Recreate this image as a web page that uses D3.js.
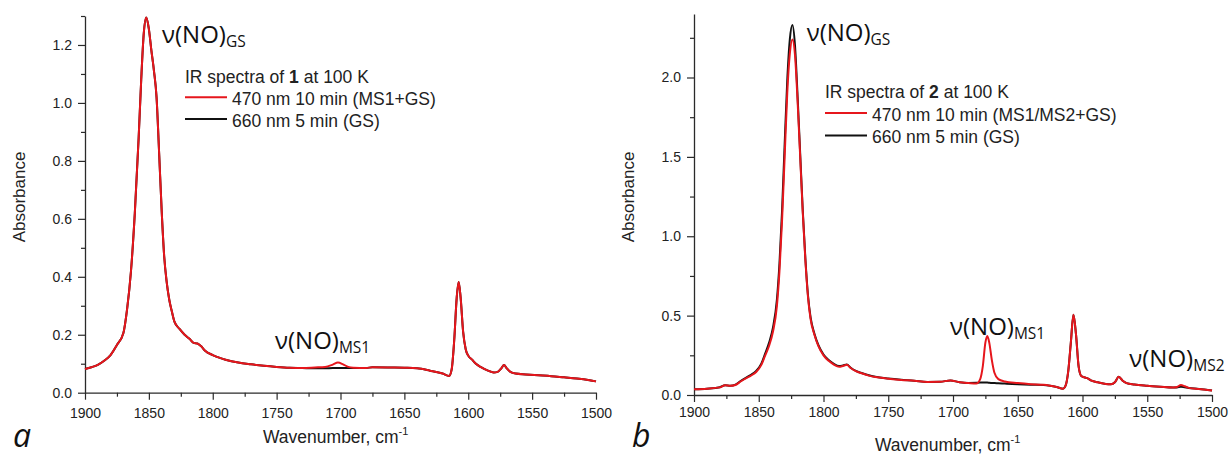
<!DOCTYPE html>
<html>
<head>
<meta charset="utf-8">
<script src="https://cdn.jsdelivr.net/npm/d3@7/dist/d3.min.js"></script>
<style>
  html, body { margin: 0; padding: 0; background: #fff; }
  svg { display: block; }
</style>
</head>
<body>
<svg id="chart" width="1232" height="456"></svg>
<script>
// ---------- Compound 1 (panel a) ----------
const wnA = [1900, 1895, 1890, 1885, 1880, 1875, 1870, 1867, 1864, 1861, 1858, 1856, 1854, 1852, 1850,
  1848, 1846, 1844, 1842, 1840, 1838, 1836, 1834, 1832, 1830, 1826, 1822, 1818, 1815, 1812, 1809,
  1806, 1800, 1795, 1790, 1780, 1770, 1760, 1750, 1740, 1730, 1720, 1712, 1706, 1702, 1698, 1694,
  1690, 1680, 1675, 1660, 1650, 1640, 1630, 1620, 1615, 1613, 1611, 1609, 1607.5, 1606, 1604, 1602,
  1600, 1597, 1594, 1590, 1585, 1580, 1577, 1574, 1572, 1570, 1567, 1563, 1555, 1545, 1535, 1525,
  1515, 1505, 1500];
// 470 nm, 10 min (MS1+GS)
const absA470 = [0.082, 0.088, 0.096, 0.110, 0.130, 0.165, 0.205, 0.290, 0.420, 0.620, 0.880, 1.080, 1.240, 1.295, 1.255,
  1.180, 1.110, 1.020, 0.830, 0.630, 0.470, 0.380, 0.320, 0.280, 0.245, 0.220, 0.200, 0.185, 0.172, 0.170, 0.160,
  0.145, 0.130, 0.121, 0.114, 0.104, 0.098, 0.093, 0.089, 0.086, 0.085, 0.087, 0.089, 0.097, 0.104, 0.098, 0.089,
  0.086, 0.085, 0.088, 0.087, 0.086, 0.084, 0.076, 0.066, 0.058, 0.080, 0.180, 0.330, 0.382, 0.330, 0.210, 0.150,
  0.128, 0.114, 0.100, 0.088, 0.077, 0.070, 0.072, 0.085, 0.096, 0.085, 0.072, 0.066, 0.063, 0.060, 0.057, 0.053,
  0.049, 0.043, 0.039];
// 660 nm, 5 min (GS)
const absA660 = [0.082, 0.088, 0.096, 0.110, 0.130, 0.165, 0.205, 0.290, 0.420, 0.620, 0.880, 1.080, 1.240, 1.295, 1.255,
  1.180, 1.110, 1.020, 0.830, 0.630, 0.470, 0.380, 0.320, 0.280, 0.245, 0.220, 0.200, 0.185, 0.172, 0.170, 0.160,
  0.145, 0.130, 0.121, 0.114, 0.104, 0.098, 0.093, 0.089, 0.086, 0.085, 0.084, 0.084, 0.085, 0.085, 0.085, 0.085,
  0.085, 0.085, 0.088, 0.087, 0.086, 0.084, 0.076, 0.066, 0.058, 0.080, 0.180, 0.330, 0.382, 0.330, 0.210, 0.150,
  0.128, 0.114, 0.100, 0.088, 0.077, 0.070, 0.072, 0.085, 0.096, 0.085, 0.072, 0.066, 0.063, 0.060, 0.057, 0.053,
  0.049, 0.043, 0.039];

// ---------- Compound 2 (panel b) ----------
const wnB = [1900, 1890, 1880, 1876, 1872, 1868, 1864, 1860, 1856, 1852, 1848, 1845, 1842, 1839, 1836,
  1834, 1832, 1830, 1828, 1826, 1824, 1822, 1820, 1818, 1816, 1814, 1812, 1810, 1807, 1804, 1800,
  1796, 1792, 1788, 1785, 1782, 1779, 1775, 1770, 1765, 1760, 1750, 1740, 1730, 1720, 1710, 1702,
  1695, 1688, 1682, 1679, 1677, 1675, 1673.5, 1672, 1670, 1668, 1665, 1660, 1650, 1640, 1630, 1625,
  1620, 1615, 1613, 1611, 1609, 1607, 1605, 1603, 1601, 1598, 1596, 1593, 1588, 1582, 1578, 1575,
  1572, 1569, 1566, 1560, 1550, 1540, 1530, 1527, 1524, 1521, 1518, 1510, 1500];
// 470 nm, 10 min (MS1/MS2+GS)
const absB470 = [0.036, 0.040, 0.048, 0.062, 0.058, 0.063, 0.085, 0.105, 0.122, 0.145, 0.190, 0.250, 0.310, 0.400, 0.560,
  0.780, 1.100, 1.500, 1.900, 2.150, 2.240, 2.140, 1.850, 1.500, 1.150, 0.850, 0.620, 0.480, 0.380, 0.310, 0.250,
  0.215, 0.192, 0.178, 0.183, 0.190, 0.170, 0.150, 0.135, 0.122, 0.113, 0.103, 0.095, 0.090, 0.082, 0.083, 0.092,
  0.080, 0.075, 0.072, 0.100, 0.180, 0.330, 0.372, 0.330, 0.220, 0.140, 0.100, 0.085, 0.075, 0.068, 0.064, 0.058,
  0.050, 0.040, 0.060, 0.150, 0.330, 0.505, 0.380, 0.180, 0.120, 0.110, 0.105, 0.090, 0.080, 0.070, 0.068, 0.080,
  0.115, 0.090, 0.075, 0.066, 0.058, 0.052, 0.047, 0.050, 0.063, 0.055, 0.045, 0.038, 0.028];
// 660 nm, 5 min (GS)
const absB660 = [0.036, 0.040, 0.049, 0.062, 0.058, 0.065, 0.088, 0.108, 0.127, 0.152, 0.198, 0.262, 0.330, 0.425, 0.600,
  0.830, 1.160, 1.580, 1.980, 2.240, 2.330, 2.200, 1.880, 1.520, 1.160, 0.860, 0.630, 0.490, 0.385, 0.315, 0.255,
  0.220, 0.196, 0.182, 0.186, 0.192, 0.172, 0.152, 0.137, 0.124, 0.115, 0.104, 0.096, 0.090, 0.082, 0.083, 0.092,
  0.080, 0.076, 0.077, 0.078, 0.078, 0.078, 0.078, 0.077, 0.076, 0.075, 0.074, 0.072, 0.068, 0.065, 0.063, 0.058,
  0.050, 0.040, 0.060, 0.150, 0.330, 0.505, 0.380, 0.180, 0.120, 0.110, 0.105, 0.090, 0.080, 0.070, 0.068, 0.080,
  0.115, 0.090, 0.075, 0.066, 0.058, 0.052, 0.047, 0.048, 0.052, 0.048, 0.044, 0.038, 0.028];

// ---------- Tick values ----------
const xTicks = [1900, 1850, 1800, 1750, 1700, 1650, 1600, 1550, 1500];
const xMinorTicks = [1875, 1825, 1775, 1725, 1675, 1625, 1575, 1525];
const yTicksA = [0.0, 0.2, 0.4, 0.6, 0.8, 1.0, 1.2];
const yMinorTicksA = [0.1, 0.3, 0.5, 0.7, 0.9, 1.1, 1.3];
const yTicksB = [0.0, 0.5, 1.0, 1.5, 2.0];
const yMinorTicksB = [0.25, 0.75, 1.25, 1.75, 2.25];

// ---------- Legend / label text ----------
const seriesNames = {
  a: ["470 nm 10 min (MS1+GS)", "660 nm 5 min (GS)"],
  b: ["470 nm 10 min (MS1/MS2+GS)", "660 nm 5 min (GS)"]
};

const RED = "#e6161c";
const BLACK = "#111";
const AXIS = "#2a2a2a";
const SANS = "'Liberation Sans', Arial, sans-serif";
const LABEL_FONT = "'Open Sans', sans-serif";

const svg = d3.select("#chart");
svg.append("rect").attr("width", 1232).attr("height", 456).attr("fill", "#fff");

const panels = [
  {
    id: "a", compound: "1",
    box: { left: 85, right: 596, top: 16, bottom: 392.7 },
    yMax: 1.3, yTicks: yTicksA, yMinor: yMinorTicksA, yFmt: d3.format(".1f"),
    wn: wnA, red: absA470, black: absA660,
    xLabelPad: 8, xTitle: { x: 263, y: 442.5 }, yTitle: { x: 25, y: 197 },
    letter: { x: 13, y: 447 },
    legend: { x: 185, y: 83, dy: 21.8 },
    notes: [
      { x: 162, y: 42.7, sub: "GS" },
      { x: 275, y: 348.5, sub: "MS1" }
    ]
  },
  {
    id: "b", compound: "2",
    box: { left: 694, right: 1212, top: 14, bottom: 395 },
    yMax: 2.4, yTicks: yTicksB, yMinor: yMinorTicksB, yFmt: d3.format(".1f"),
    wn: wnB, red: absB470, black: absB660,
    xLabelPad: 5, xTitle: { x: 875, y: 451 }, yTitle: { x: 634, y: 197 },
    letter: { x: 632, y: 447 },
    legend: { x: 825, y: 98, dy: 22.5 },
    notes: [
      { x: 806.7, y: 40.5, sub: "GS" },
      { x: 950, y: 335, sub: "MS1" },
      { x: 1129.3, y: 367, sub: "MS2" }
    ]
  }
];

panels.forEach(p => {
  const b = p.box;
  const x = d3.scaleLinear().domain([1900, 1500]).range([b.left, b.right]);
  const y = d3.scaleLinear().domain([0, p.yMax]).range([b.bottom, b.top]);
  const g = svg.append("g").attr("class", "panel-" + p.id);

  // minor ticks
  g.append("g").attr("transform", `translate(0,${b.bottom})`)
    .call(d3.axisBottom(x).tickValues(xMinorTicks).tickSize(4).tickFormat(""))
    .call(a => a.select(".domain").remove());
  g.append("g").attr("transform", `translate(${b.left},0)`)
    .call(d3.axisLeft(y).tickValues(p.yMinor).tickSize(4).tickFormat(""))
    .call(a => a.select(".domain").remove());

  // major axes
  g.append("g").attr("transform", `translate(0,${b.bottom})`)
    .call(d3.axisBottom(x).tickValues(xTicks).tickSize(7).tickSizeOuter(0)
      .tickPadding(p.xLabelPad).tickFormat(d3.format("d")));
  g.append("g").attr("transform", `translate(${b.left},0)`)
    .call(d3.axisLeft(y).tickValues(p.yTicks).tickSize(7).tickSizeOuter(0)
      .tickPadding(6).tickFormat(p.yFmt));

  g.selectAll(".tick line").attr("stroke", AXIS).attr("stroke-width", 1.2);
  g.selectAll(".domain").attr("stroke", AXIS).attr("stroke-width", 1.3);
  g.selectAll(".tick text").attr("font-family", SANS).attr("font-size", 14).attr("fill", "#222");

  // spectra: GS trace underneath, irradiated trace on top
  const line = d3.line()
    .x((d, i) => x(p.wn[i]))
    .y(d => y(d))
    .curve(d3.curveMonotoneX);
  g.append("path").datum(p.black)
    .attr("d", line).attr("fill", "none")
    .attr("stroke", BLACK).attr("stroke-width", 2).attr("stroke-linejoin", "round");
  g.append("path").datum(p.red)
    .attr("d", line).attr("fill", "none")
    .attr("stroke", RED).attr("stroke-width", 2).attr("stroke-linejoin", "round");

  // axis titles
  g.append("text")
    .attr("transform", `translate(${p.yTitle.x},${p.yTitle.y}) rotate(-90)`)
    .attr("text-anchor", "middle")
    .attr("font-family", SANS).attr("font-size", 17).attr("fill", "#222")
    .text("Absorbance");
  const xt = g.append("text")
    .attr("x", p.xTitle.x).attr("y", p.xTitle.y)
    .attr("font-family", SANS).attr("font-size", 17.5).attr("fill", "#222");
  xt.append("tspan").text("Wavenumber, cm");
  xt.append("tspan").attr("font-size", 11).attr("dy", -8).text("-1");

  // panel letter
  g.append("text")
    .attr("x", p.letter.x).attr("y", p.letter.y)
    .attr("font-family", LABEL_FONT).attr("font-style", "italic")
    .attr("font-size", 32).attr("fill", "#111")
    .text(p.id);

  // legend
  const lg = g.append("g").attr("font-family", SANS).attr("font-size", 17.5).attr("fill", "#222");
  const head = lg.append("text").attr("x", p.legend.x).attr("y", p.legend.y);
  head.append("tspan").text("IR spectra of ");
  head.append("tspan").attr("font-weight", "bold").text(p.compound);
  head.append("tspan").text(" at 100 K");
  [RED, BLACK].forEach((c, i) => {
    const ty = p.legend.y + p.legend.dy * (i + 1);
    lg.append("line")
      .attr("x1", p.legend.x).attr("x2", p.legend.x + 42)
      .attr("y1", ty - 7.5).attr("y2", ty - 7.5)
      .attr("stroke", c).attr("stroke-width", 2);
    lg.append("text").attr("x", p.legend.x + 47).attr("y", ty)
      .text(seriesNames[p.id][i]);
  });

  // band assignments
  p.notes.forEach(n => {
    const t = g.append("text")
      .attr("x", n.x).attr("y", n.y)
      .attr("font-family", LABEL_FONT).attr("font-size", 24).attr("fill", "#111");
    t.append("tspan").text("ν(NO)");
    t.append("tspan").attr("font-size", 15.5).attr("dy", 4).text(n.sub);
  });
});
</script>
</body>
</html>
